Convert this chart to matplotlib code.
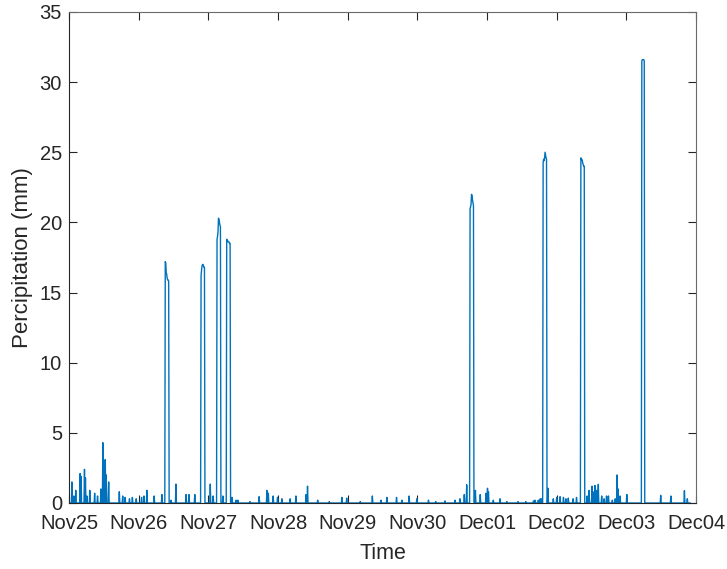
import numpy as np
import pandas as pd
import matplotlib
matplotlib.use("Agg")
import matplotlib.pyplot as plt
import matplotlib.dates as mdates

plt.rcParams["font.family"] = ["Liberation Sans", "DejaVu Sans"]

# 10-minute record starting Nov25 00:00; dry unless listed below
t0 = pd.Timestamp("2019-11-25")
times = pd.date_range(t0, t0 + pd.Timedelta(hours=214), freq="10min")

# heavy bursts: onset (hours after t0) and the 10-min readings that follow
burst_start = [33.1, 45.5, 51.0, 54.4, 138.1, 163.3, 176.4, 197.4]
burst_1 = [17.2, 17.1, 16.4, 16.3, 16.0, 15.9, 15.9, 15.8]
burst_2 = [16.2, 16.6, 16.9, 17.0, 17.0, 16.9, 16.8, 16.8]
burst_3 = [18.8, 19.0, 19.3, 20.3, 20.2, 20.0, 19.8, 19.7]
burst_4 = [18.8, 18.7, 18.7, 18.6, 18.6, 18.6, 18.5, 18.5]
burst_5 = [21.0, 21.1, 21.3, 22.0, 21.9, 21.6, 21.4, 21.2]
burst_6 = [24.3, 24.5, 24.4, 24.6, 25.0, 24.8, 24.6, 24.5]
burst_7 = [24.6, 24.5, 24.5, 24.4, 24.2, 24.1, 24.0, 24.0]
burst_8 = [31.5, 31.6, 31.6, 31.6, 31.6, 31.5]
bursts = [burst_1, burst_2, burst_3, burst_4, burst_5, burst_6, burst_7, burst_8]

# isolated light readings
light_hours = [1.0, 1.7, 2.4, 3.8, 4.2, 5.3, 5.7, 6.2, 7.2, 8.8, 9.9, 11.0,
               11.6, 12.0, 12.5, 12.8, 13.7, 17.3, 18.5, 19.4, 20.8, 21.9,
               23.1, 25.0, 25.8, 26.8, 29.3, 32.0, 35.1, 36.9, 40.3, 41.4,
               43.4, 48.6, 49.6, 53.0, 56.2, 57.5, 58.2, 62.3, 65.5, 68.1,
               68.7, 70.4, 71.8, 73.3, 76.1, 78.1, 81.7, 82.2, 85.7, 89.7,
               94.0, 95.7, 100.3, 104.5, 107.5, 109.5, 112.9, 114.6, 117.2,
               119.8, 123.8, 126.4, 129.5, 133.0, 134.7, 136.1, 137.0, 140.0,
               141.6, 143.7, 144.1, 144.5, 146.1, 148.5, 150.9, 154.7, 157.4,
               160.0, 160.5, 161.7, 162.3, 162.8, 165.0, 166.8, 168.0, 169.2,
               170.3, 171.2, 172.0, 173.7, 174.9, 178.5, 179.2, 180.1, 180.5,
               181.2, 181.9, 182.3, 183.5, 184.3, 185.2, 185.8, 187.1, 188.1,
               188.9, 189.2, 189.8, 192.1, 203.8, 207.3, 212.0, 213.0]
light_mm = [1.5, 0.5, 0.9, 2.1, 1.9, 2.4, 1.8, 0.5, 0.9, 0.7, 0.5, 1.0,
            4.3, 3.0, 3.1, 2.0, 1.5, 0.8, 0.5, 0.4, 0.3, 0.4,
            0.3, 0.4, 0.5, 0.9, 0.5, 0.6, 0.2, 1.35, 0.6, 0.6,
            0.6, 1.35, 0.5, 0.5, 0.4, 0.2, 0.2, 0.1, 0.45, 0.9,
            0.7, 0.5, 0.4, 0.3, 0.3, 0.5, 0.6, 1.2, 0.2, 0.1,
            0.4, 0.35, 0.1, 0.5, 0.2, 0.4, 0.4, 0.2, 0.5,
            0.3, 0.2, 0.1, 0.15, 0.2, 0.3, 0.6, 1.3, 0.9,
            0.6, 0.7, 1.05, 0.8, 0.2, 0.3, 0.1, 0.1, 0.1,
            0.15, 0.2, 0.2, 0.3, 0.3, 1.05, 0.3, 0.4, 0.45,
            0.4, 0.3, 0.35, 0.3, 0.4, 0.5, 0.9, 1.2, 0.8,
            1.25, 0.9, 1.33, 0.5, 0.3, 0.5, 0.5, 0.2, 0.3,
            2.0, 1.0, 0.5, 0.6, 0.55, 0.5, 0.88, 0.3]

precip = np.zeros(len(times))
for h, v in zip(light_hours, light_mm):
    precip[int(round(h * 6))] = v
for h, vals in zip(burst_start, bursts):
    i = int(round(h * 6))
    precip[i:i + len(vals)] = vals

fig = plt.figure(figsize=(7.27, 5.69), dpi=100)
ax = fig.add_axes([0.0949, 0.116, 0.8625, 0.863])
ax.plot(times, precip, color="#0072BD", lw=1.0)

ax.set_xlim(t0, t0 + pd.Timedelta(days=9))
ax.set_ylim(0, 35)
ax.set_yticks(np.arange(0, 36, 5))
ax.xaxis.set_major_locator(mdates.DayLocator())
ax.xaxis.set_major_formatter(mdates.DateFormatter("%b%d"))

ax.tick_params(direction="in", length=6, width=0.8, colors="#262626",
               labelsize=14.5, top=True, right=True)
ax.tick_params(axis="x", pad=8)
ax.tick_params(axis="y", pad=5)
for s in ax.spines.values():
    s.set_color("#262626")
    s.set_linewidth(0.8)
for side in ("top", "right"):
    ax.spines[side].set_color("#6a6a6a")

ax.set_xlabel("Time", fontsize=15.5, color="#262626", labelpad=7)
ax.set_ylabel("Percipitation (mm)", fontsize=16, color="#262626", labelpad=5)

fig.savefig("out.png", dpi=100)
